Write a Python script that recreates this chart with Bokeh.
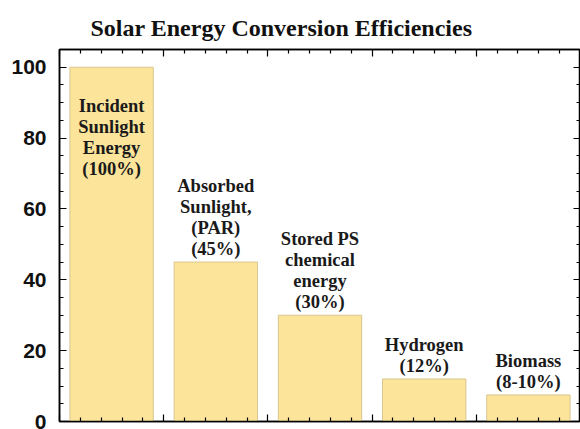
from bokeh.plotting import figure
from bokeh.models import (ColumnDataSource, LinearAxis, FixedTicker, SingleIntervalTicker,
                          Range1d, Title)
from bokeh.embed import file_html
from bokeh.resources import INLINE
from bokeh.core.properties import value

# ---- data ----
categories = ["Incident Sunlight Energy", "Absorbed Sunlight (PAR)", "Stored PS chemical energy",
              "Hydrogen", "Biomass"]
values = [100, 45, 30, 12, 7.5]
bar_labels = ["Incident\nSunlight\nEnergy\n(100%)",
              "Absorbed\nSunlight,\n(PAR)\n(45%)",
              "Stored PS\nchemical\nenergy\n(30%)",
              "Hydrogen\n(12%)",
              "Biomass\n(8-10%)"]
y_ticks = [0, 20, 40, 60, 80, 100]

n = len(categories)
xs = list(range(1, n + 1))

p = figure(width=580, height=429, output_backend="svg", toolbar_location=None,
           x_range=Range1d(0.5, n + 0.5), y_range=Range1d(0, 105),
           min_border_left=59, min_border_right=0, min_border_top=49, min_border_bottom=8,
           x_axis_location=None, y_axis_location=None)
p.background_fill_color = "white"
p.border_fill_color = "white"
p.outline_line_color = "black"
p.outline_line_width = 1.5
p.grid.visible = False

src = ColumnDataSource(dict(x=xs, top=values, cat=categories))
p.vbar(x="x", top="top", width=0.8, bottom=0, source=src,
       fill_color="#FCE59B", line_color="#D8C690", line_width=1)

inside = [i for i in range(n) if values[i] > 60]
outside = [i for i in range(n) if values[i] <= 60]
src_in = ColumnDataSource(dict(x=[xs[i] for i in inside], y=[values[i] for i in inside],
                               t=[bar_labels[i] for i in inside]))
src_out = ColumnDataSource(dict(x=[xs[i] for i in outside], y=[values[i] for i in outside],
                                t=[bar_labels[i] for i in outside]))
common = dict(text="t", text_font=value("Liberation Serif"), text_font_size="18.5px",
              text_font_style="bold", text_color="#1a1a1a", text_align="center",
              text_line_height=1.05)
p.text(x="x", y="y", source=src_in, text_baseline="top", y_offset=29, **common)
p.text(x="x", y="y", source=src_out, text_baseline="bottom", y_offset=-3, **common)

# x ticks at category boundaries
bounds = [0.5 + i for i in range(n + 1)]
minors = [b + k * 0.2 for b in bounds[:-1] for k in range(1, 5)]
xticker = FixedTicker(ticks=bounds, minor_ticks=minors)
yticker = SingleIntervalTicker(interval=20, num_minor_ticks=4)

def style_axis(ax, labels):
    ax.axis_line_color = "black"
    ax.axis_line_width = 1.5
    ax.major_tick_in = 7
    ax.major_tick_out = 0
    ax.minor_tick_in = 4
    ax.minor_tick_out = 0
    ax.major_tick_line_color = "black"
    ax.minor_tick_line_color = "black"
    ax.major_tick_line_width = 1.2
    ax.minor_tick_line_width = 1.2
    if not labels:
        ax.major_label_text_font_size = "0px"
        ax.major_label_standoff = 0

bottom = LinearAxis(ticker=xticker)
top = LinearAxis(ticker=xticker)
left = LinearAxis(ticker=yticker)
right = LinearAxis(ticker=yticker)
for ax in (bottom, top, right):
    style_axis(ax, False)
style_axis(left, True)
left.major_label_text_font = "Liberation Sans"
left.major_label_text_font_style = "bold"
left.major_label_text_font_size = "21px"
left.major_label_text_color = "#111111"
left.major_label_standoff = 13

p.add_layout(bottom, "below")
p.add_layout(top, "above")
p.add_layout(left, "left")
p.add_layout(right, "right")

title = Title(text="Solar Energy Conversion Efficiencies", align="left", offset=31,
              text_font="Liberation Serif", text_font_size="24px", text_font_style="bold",
              text_color="#111111", standoff=18)
p.add_layout(title, "above")

open("out.html", "w").write(file_html(p, INLINE))
